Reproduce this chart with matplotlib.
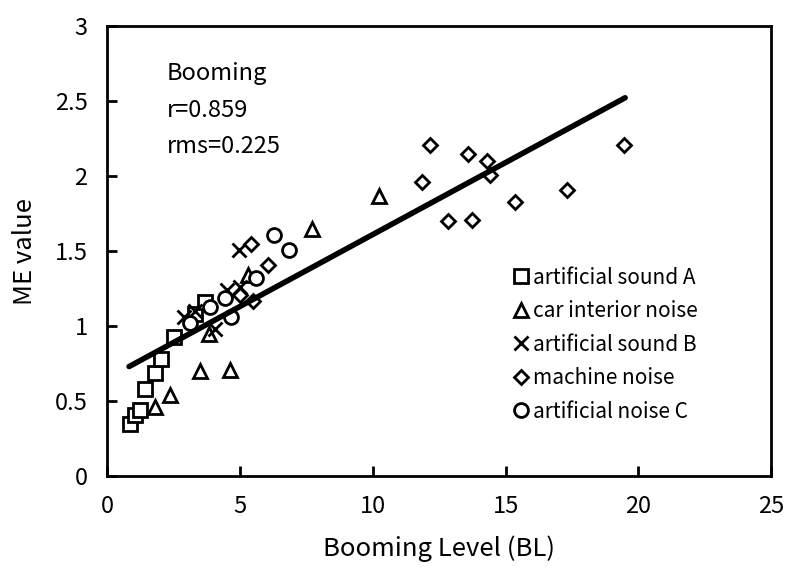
import numpy as np
import matplotlib
matplotlib.use('Agg')
import matplotlib.pyplot as plt

plt.rcParams['font.family'] = ['Noto Sans CJK JP', 'DejaVu Sans']

# artificial sound A (squares)
sq_x = [0.88, 1.04, 1.23, 1.44, 1.82, 2.02, 2.52, 3.3, 3.7]
sq_y = [0.35, 0.41, 0.44, 0.58, 0.69, 0.78, 0.93, 1.08, 1.16]
# car interior noise (triangles)
tri_x = [1.81, 2.37, 3.5, 4.63, 3.85, 5.3, 7.7, 10.25]
tri_y = [0.46, 0.54, 0.70, 0.71, 0.95, 1.34, 1.65, 1.87]
# artificial sound B (crosses)
cr_x = [2.9, 3.3, 4.07, 4.5, 5.0, 4.95]
cr_y = [1.06, 1.10, 0.98, 1.24, 1.26, 1.51]
# machine noise (diamonds)
dm_x = [5.0, 5.5, 5.4, 6.05, 11.85, 12.16, 12.85, 13.6, 13.75, 14.29, 14.4,
        15.36, 17.3, 19.44]
dm_y = [1.21, 1.17, 1.55, 1.41, 1.96, 2.21, 1.70, 2.15, 1.71, 2.10, 2.01,
        1.83, 1.91, 2.21]
# artificial noise C (circles)
ci_x = [3.12, 3.88, 4.45, 4.65, 5.6, 6.3, 6.85]
ci_y = [1.02, 1.13, 1.19, 1.06, 1.32, 1.61, 1.51]

# regression line
fit_x = [0.83, 19.5]
fit_a, fit_b = 0.65, 0.096

fig = plt.figure(figsize=(7.87, 5.67), dpi=100)
ax = fig.add_axes([0.136, 0.1605, 0.844, 0.7935])

mk = dict(linestyle='none', markerfacecolor='white', markeredgecolor='black',
          markeredgewidth=2.0)
ax.plot(sq_x, sq_y, marker='s', markersize=10, label='artificial sound A', **mk)
ax.plot(tri_x, tri_y, marker='^', markersize=10, label='car interior noise', **mk)
ax.plot(cr_x, cr_y, marker='x', markersize=10, color='black',
        label='artificial sound B', **mk)
ax.plot(dm_x, dm_y, marker='D', markersize=7.5, label='machine noise', **mk)
ax.plot(ci_x, ci_y, marker='o', markersize=10, label='artificial noise C', **mk)

fx = np.array(fit_x)
ax.plot(fx, fit_a + fit_b * fx, color='black', lw=4, solid_capstyle='round')

ax.set_xlim(0, 25)
ax.set_ylim(0, 3)
ax.set_xticks([0, 5, 10, 15, 20, 25])
ax.set_yticks([0, 0.5, 1, 1.5, 2, 2.5, 3])
ax.set_yticklabels(['0', '0.5', '1', '1.5', '2', '2.5', '3'])
ax.tick_params(direction='in', length=7, width=2, labelsize=17, pad=14)
for s in ax.spines.values():
    s.set_linewidth(2)

ax.set_xlabel('Booming Level (BL)', fontsize=18.5, labelpad=12)
ax.set_ylabel('ME value', fontsize=18.5, labelpad=12)

ax.text(0.09, 0.92, 'Booming\nr=0.859\nrms=0.225', transform=ax.transAxes,
        fontsize=17, va='top', ha='left', linespacing=1.75)

ax.legend(loc='upper left', bbox_to_anchor=(0.61, 0.465), frameon=False,
          fontsize=15, handlelength=0.8, handletextpad=0.2, borderpad=0,
          borderaxespad=0, labelspacing=0.55)

fig.savefig('out.png', dpi=100)
